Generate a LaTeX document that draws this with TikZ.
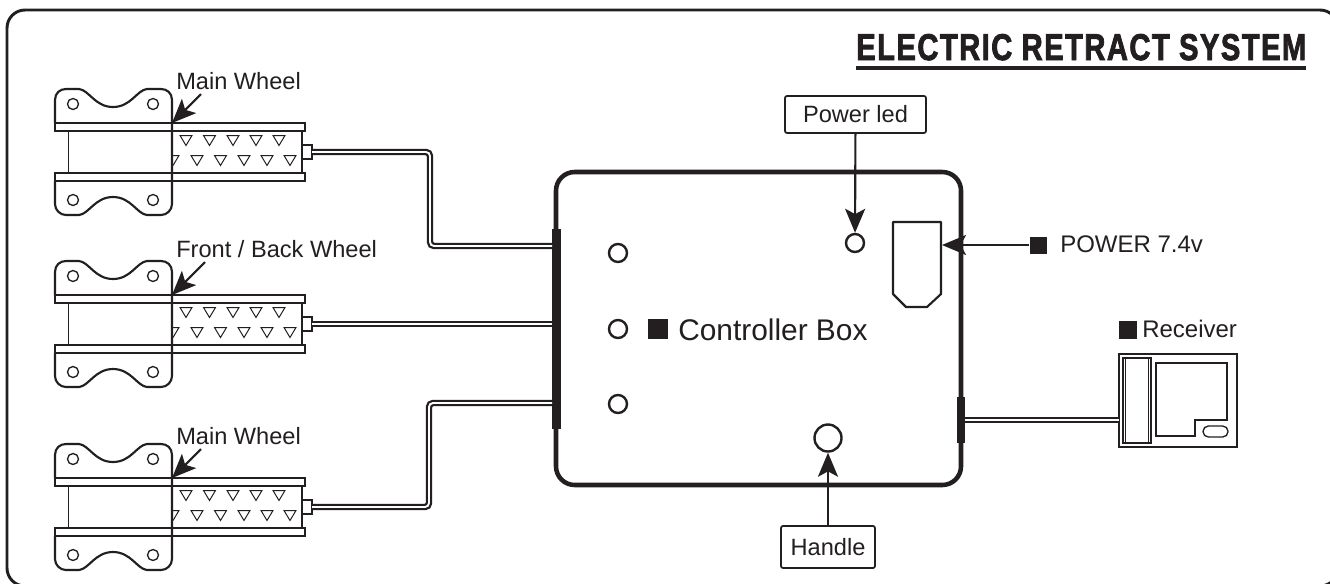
\documentclass[tikz,border=0pt]{standalone}
\usepackage{fontspec}
\setmainfont{Liberation Sans}
\newfontfamily\titlef[BoldFeatures={FakeBold=2.5,LetterSpace=5}]{Liberation Sans}
\usetikzlibrary{arrows.meta,calc}
\definecolor{ink}{HTML}{231F20}
\tikzset{
  x=0.75pt,y=-0.75pt,
  outl/.style={draw=ink,line width=1.6pt,line join=round},
  thin part/.style={draw=ink,line width=1pt},
  hair/.style={draw=ink,line width=0.7pt},
  tri/.style={draw=ink,line width=0.75pt,line join=miter},
  cable/.style={draw=ink,line width=1.7pt,double=white,double distance=1.4pt,rounded corners=3pt},
  pointer/.style={draw=ink,line width=1.6pt,-{Stealth[length=18pt,width=15pt,inset=4pt]}},
  lbl/.style={inner sep=0pt,anchor=base west,text=ink,font=\fontsize{17.7pt}{20pt}\selectfont},
  labelbox/.style={draw=ink,line width=1.3pt,rounded corners=1.5pt,inner sep=0pt,text=ink,font=\fontsize{17.7pt}{20pt}\selectfont},
  sq/.style={fill=ink,draw=none,minimum size=#1*0.75pt,inner sep=0pt},
  led/.style={circle,draw=ink,line width=1.8pt,inner sep=0pt,minimum size=#1*0.75pt},
}
\newcommand{\actuator}[2]{%
 \begin{scope}[shift={(0,#2)}]
  \draw[thin part,fill=white] (55,123) rectangle (305,131);
  \draw[thin part,fill=white] (55,173) rectangle (305,181);
  \draw[outl] (55,131) -- (302,131) (55,173) -- (302,173);
  \draw[outl] (302,131) -- (302,173);
  \draw[hair] (68,131) -- (68,173);
  \foreach \tx in {186,209.5,233,256,279}
    \draw[tri] (\tx-6,135.5) -- (\tx+6,135.5) -- (\tx,145.5) -- cycle;
  \foreach \tx in {197,220.5,244,267,290}
    \draw[tri] (\tx-6,155.5) -- (\tx+6,155.5) -- (\tx,165.5) -- cycle;
  \draw[tri] (172,155.5) -- (179,155.5) -- (173,165.5);
  \draw[thin part,fill=white] (302,145) rectangle (312,159);
  \draw[outl] (55,123) -- (55,100) .. controls (55,93) and (60,89) .. (66,89)
     -- (79,89) .. controls (89,90) and (95,107) .. (113,107)
     .. controls (131,107) and (137,90) .. (147,89) -- (161,89)
     .. controls (167,89) and (172,93) .. (172,100) -- (172,204)
     .. controls (172,210) and (167,215) .. (161,215) -- (147,215)
     .. controls (137,214) and (131,197) .. (113,197)
     .. controls (95,197) and (89,214) .. (79,215) -- (66,215)
     .. controls (60,215) and (55,210) .. (55,204) -- (55,181);
  \draw[thin part] (55,123) -- (172,123) (55,181) -- (172,181);
  \foreach \hx/\hy in {73/104,153/104,73/200,153/200}
    \draw[thin part] (\hx,\hy) circle (5.5);
  \coordinate (#1plug) at (312,152);
  \coordinate (#1tip) at (172,123);
 \end{scope}}
\begin{document}
\begin{tikzpicture}
\useasboundingbox (0,0) rectangle (1330,583);
\fill[white] (0,0) rectangle (1330,583);
% outer frame (runs off the right and bottom edges)
\begin{scope}
\clip (0,0) rectangle (1330,583);
\draw[draw=ink,line width=2.2pt,rounded corners=13.5pt] (7,10) rectangle (1338,586);
\end{scope}
% title
\node[inner sep=0pt,anchor=base west,text=ink] (title) at (856,60) {\resizebox{337.5pt}{19.5pt}{\titlef\bfseries ELECTRIC\hspace{0.32em}RETRACT\hspace{0.32em}SYSTEM}};
\draw[draw=ink,line width=2.4pt] (856,68) -- (1306,68);
% actuators
\actuator{aa}{0}
\actuator{bb}{172}
\actuator{cc}{355}
\node[lbl] (la) at (176,89) {Main Wheel};
\node[lbl] (lb) at (176,257) {Front / Back Wheel};
\node[lbl] (lc) at (176,444) {Main Wheel};
\draw[pointer] (201,94) -- (aatip);
\draw[pointer] (205,262) -- (bbtip);
\draw[pointer] (201,449) -- (cctip);
% box
\node[draw=ink,line width=3.4pt,rounded corners=14pt,minimum width=405*0.75pt,minimum height=313*0.75pt,inner sep=0pt,outer sep=0pt,anchor=north west] (box) at (556,172) {};
\fill[ink] (552,229) rectangle (561,429);
\fill[ink] (957,397) rectangle (965,443);
% cables
\coordinate (ca) at (552,246);
\coordinate (cb) at (552,324);
\coordinate (cc) at (552,403);
\coordinate (cr) at (965,420);
\draw[cable] (aaplug) -- (430,152) -- (430,246) -- (ca);
\draw[cable] (bbplug) -- (cb);
\draw[cable] (ccplug) -- (429,507) -- (429,403) -- (cc);
% LEDs
\node[led=18] (l1) at (618,253) {};
\node[led=18] (l2) at (618,329) {};
\node[led=18] (l3) at (618,404) {};
\node[led=18] (pl) at (855,243) {};
\node[led=27] (hd) at (828,438) {};
% controller label
\node[sq=20] (s1) at (658,329) {};
\node[inner sep=0pt,anchor=base west,text=ink,font=\fontsize{22.4pt}{26pt}\selectfont] (ctl) at (678,340) {Controller Box};
% battery socket
\draw[outl] (893,222) -- (941,222) -- (941,294) -- (927,307) -- (906,307) -- (893,294) -- cycle;
\coordinate (sock) at (942,245);
% power
\node[sq=17] (s2) at (1038,245) {};
\node[lbl,font=\fontsize{18pt}{20pt}\selectfont] (pw) at (1060,252) {POWER 7.4v};
\draw[pointer] (s2) -- (sock);
% power led label
\node[labelbox,minimum width=141*0.75pt,minimum height=37*0.75pt] (pb) at (855.5,114.5) {Power led};
\draw[pointer] (pb) -- (pl);
% handle label
\node[labelbox,minimum width=94*0.75pt,minimum height=42*0.75pt] (hb) at (828,547) {Handle};
\draw[pointer] (hb) -- (hd);
% receiver
\node[sq=18] (s3) at (1128,330) {};
\node[lbl,font=\fontsize{18pt}{20pt}\selectfont] (rc) at (1142,337) {Receiver};
\node[draw=ink,line width=1.5pt,minimum width=118*0.75pt,minimum height=93*0.75pt,inner sep=0pt,outer sep=0pt,anchor=north west] (rx) at (1119,354) {};
\draw[thin part] (1123,358) rectangle (1151,443);
\draw[hair] (1125,358) -- (1125,443) (1148,358) -- (1148,443);
\draw[thin part,line width=1.1pt] (1156,363) -- (1227,363) -- (1227,420) -- (1195,420) -- (1195,436) -- (1156,436) -- cycle;
\draw[thin part,rounded corners=4pt] (1203,426) rectangle (1228,437);
\draw[cable] (cr) -- (rx.west |- cr);
\end{tikzpicture}
\end{document}
